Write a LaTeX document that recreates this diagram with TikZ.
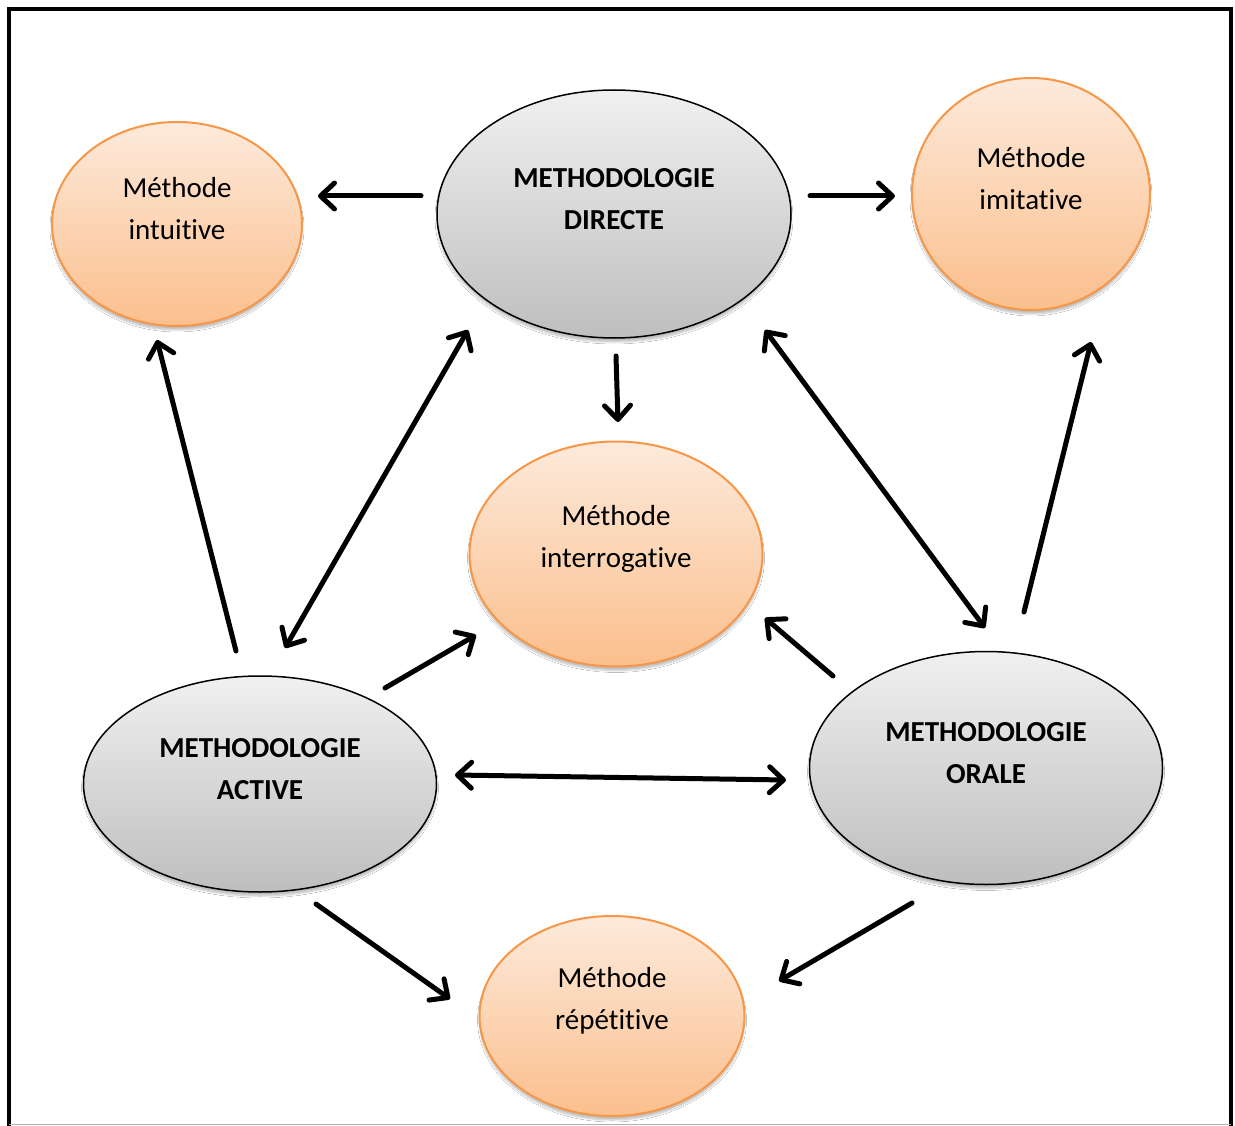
\documentclass[tikz,border=0pt]{standalone}
\usepackage{fontspec}
\setmainfont{Carlito}[Ligatures=NoCommon]
\usetikzlibrary{shapes.geometric,arrows.meta,shadows.blur}
\definecolor{orTop}{RGB}{253,234,219}
\definecolor{orBot}{RGB}{251,191,141}
\definecolor{orLine}{RGB}{247,150,70}
\definecolor{grTop}{RGB}{240,240,240}
\definecolor{grBot}{RGB}{190,190,190}
\begin{document}
\begin{tikzpicture}[x=1pt,y=-1pt,
  baseE/.style={ellipse, inner sep=0pt,
    blur shadow={shadow xshift=0pt,shadow yshift=-4pt,shadow opacity=25,shadow blur steps=8}},
  orangeE/.style={baseE, draw=orLine, line width=2pt, top color=orTop, bottom color=orBot},
  grayE/.style={baseE, draw=black, line width=1.5pt, top color=grTop, bottom color=grBot},
  otxt/.style={align=center, inner sep=0pt, font=\fontsize{29}{42}\selectfont},
  gtxt/.style={align=center, inner sep=0pt, font=\fontsize{29}{42}\selectfont\bfseries},
  tipb/.tip={Straight Barb[length=14pt,width=26pt,round]},
  arr/.style={line width=5pt, line cap=round, -tipb},
  darr/.style={line width=5pt, line cap=round, tipb-tipb}]
\useasboundingbox (0,0) rectangle (1235,1126);
\fill[white] (0,0) rectangle (1235,1126);
% frame
\draw[line width=4pt, line join=miter] (8.5,1126) -- (8.5,9) -- (1230.5,9) -- (1230.5,1126);
\draw[black!30, line width=1pt] (8.5,1124.5) -- (1230.5,1124.5);

% ellipses
\node[orangeE, minimum width=250pt, minimum height=204pt] (intu) at (177,224) {};
\node[grayE,   minimum width=354pt, minimum height=248pt] (dir)  at (614,214) {};
\node[orangeE, minimum width=238pt, minimum height=232pt] (imit) at (1031,194) {};
\node[orangeE, minimum width=293pt, minimum height=225pt] (inter) at (616,554) {};
\node[grayE,   minimum width=353pt, minimum height=216pt] (act)  at (260,784) {};
\node[grayE,   minimum width=353pt, minimum height=233pt] (oral) at (986,768) {};
\node[orangeE, minimum width=265pt, minimum height=200pt] (rep)  at (612,1016) {};

% texts
\node[otxt] (intuT)  at ([yshift=15pt]intu.center)  {Méthode\\intuitive};
\node[gtxt] (dirT)   at ([yshift=15pt]dir.center)   {METHODOLOGIE\\DIRECTE};
\node[otxt] (imitT)  at ([yshift=15pt]imit.center)  {Méthode\\imitative};
\node[otxt] (interT) at ([yshift=15pt]inter.center) {Méthode\\interrogative};
\node[gtxt] (actT)   at ([yshift=15pt]act.center)   {METHODOLOGIE\\ACTIVE};
\node[gtxt] (oralT)  at ([yshift=15pt]oral.center)  {METHODOLOGIE\\ORALE};
\node[otxt] (repT)   at ([yshift=15pt]rep.center)   {Méthode\\répétitive};

% connector end points
\coordinate (a1s) at (421,196);  \coordinate (a1e) at (318,196);
\coordinate (a2s) at (810,196);  \coordinate (a2e) at (895,196);
\coordinate (a3s) at (616,356);  \coordinate (a3e) at (618,422);
\coordinate (a4s) at (236,651);  \coordinate (a4e) at (157,340);
\coordinate (a5s) at (285,648);  \coordinate (a5e) at (468,330);
\coordinate (a6s) at (765,330);  \coordinate (a6e) at (985,628);
\coordinate (a7s) at (1024,612); \coordinate (a7e) at (1091,342);
\coordinate (a8s) at (385,688);  \coordinate (a8e) at (476,635);
\coordinate (a9s) at (833,676);  \coordinate (a9e) at (765,618);
\coordinate (a10s) at (455,775); \coordinate (a10e) at (786,780);
\coordinate (a11s) at (316,904); \coordinate (a11e) at (450,999);
\coordinate (a12s) at (912,903); \coordinate (a12e) at (779,981);

\draw[arr]  (a1s) -- (a1e);
\draw[arr]  (a2s) -- (a2e);
\draw[arr]  (a3s) -- (a3e);
\draw[arr]  (a4s) -- (a4e);
\draw[darr] (a5s) -- (a5e);
\draw[darr] (a6s) -- (a6e);
\draw[arr]  (a7s) -- (a7e);
\draw[arr]  (a8s) -- (a8e);
\draw[arr]  (a9s) -- (a9e);
\draw[darr] (a10s) -- (a10e);
\draw[arr]  (a11s) -- (a11e);
\draw[arr]  (a12s) -- (a12e);
\end{tikzpicture}
\end{document}
